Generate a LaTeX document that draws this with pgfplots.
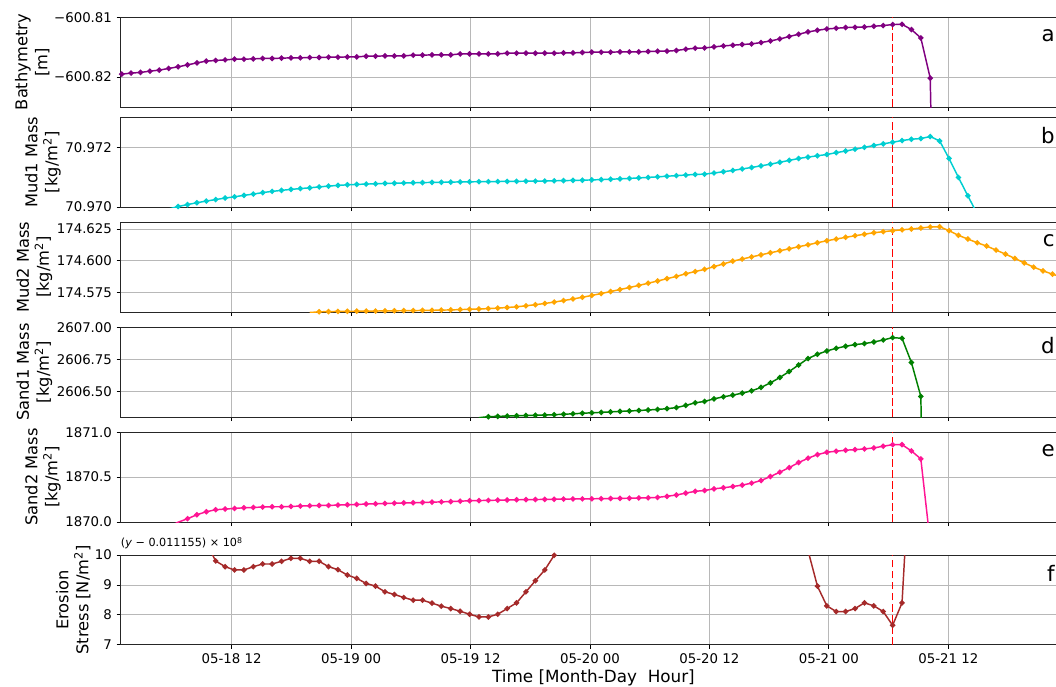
\documentclass[border=0pt]{standalone}
\usepackage{fontspec}
\setmainfont{DejaVu Sans}
\usepackage{pgfplots}
\pgfplotsset{compat=1.18}
\definecolor{cA}{HTML}{800080}
\definecolor{cB}{HTML}{00CED1}
\definecolor{cC}{HTML}{FFA500}
\definecolor{cD}{HTML}{008000}
\definecolor{cE}{HTML}{FF1493}
\definecolor{cF}{HTML}{A52A2A}
% x = sample index (about 57 min per sample); red line at sample 82
% y values are stored as offsets (see tick labels) to keep full precision
\pgfplotsset{
  panel/.style={
    at={(90.5pt,#1)}, anchor=north west,
    scale only axis, width=709.2pt, height=67.3pt,
    xmin=-0.11, xmax=100.47,
    xtick={11.70,24.40,37.11,49.81,62.51,75.22,87.92},
    xticklabels={},
    grid=major,
    major grid style={line width=0.6pt, draw=black!28},
    axis line style={line width=0.6pt, draw=black!85},
    tick align=outside, xtick pos=left, ytick pos=left,
    major tick length=3pt,
    tick style={line width=0.6pt, black},
    tick label style={font=\fontsize{10}{12}\selectfont},
    ylabel style={font=\fontsize{12.2}{15}\selectfont, align=center},
    ylabel shift=-3.5pt,
    /pgf/number format/assume math mode=true,
  },
  ser/.style={color=#1, line width=1.1pt, mark=*, mark size=1.45pt},
  redline/.style={red, line width=1.1pt, dash pattern=on 5.8pt off 2.5pt, mark=none},
}
\tikzset{letter/.style={anchor=east, inner sep=0pt, font=\fontsize{16}{16}\selectfont}}
\begin{document}
\begin{tikzpicture}
\useasboundingbox (0,0) rectangle (792pt,-514.5pt);
% ---------------- a: Bathymetry (y = (value + 600.82) * 1000)
\begin{axis}[panel=-12.97pt, ymin=-5, ymax=10, ytick={0,10},
  yticklabels={−600.82,−600.81}, ylabel={Bathymetry\\{[m]}}]
\addplot[ser=cA] table {
x y
0 0.5
1 0.67
2 0.78
3 1.0
4 1.17
5 1.45
6 1.72
7 2.05
8 2.38
9 2.67
10 2.78
11 2.88
12 3.0
13 3.0
14 3.05
15 3.12
16 3.12
17 3.17
18 3.22
19 3.22
20 3.28
21 3.28
22 3.33
23 3.33
24 3.38
25 3.38
26 3.5
27 3.5
28 3.55
29 3.55
30 3.55
31 3.67
32 3.67
33 3.72
34 3.72
35 3.72
36 3.88
37 3.88
38 3.88
39 3.88
40 3.88
41 4.0
42 4.0
43 4.0
44 4.0
45 4.0
46 4.0
47 4.05
48 4.05
49 4.12
50 4.17
51 4.17
52 4.17
53 4.22
54 4.22
55 4.22
56 4.28
57 4.33
58 4.33
59 4.45
60 4.67
61 4.83
62 4.88
63 5.05
64 5.22
65 5.33
66 5.45
67 5.55
68 5.78
69 6.05
70 6.38
71 6.78
72 7.17
73 7.55
74 7.83
75 8.05
76 8.17
77 8.28
78 8.33
79 8.38
80 8.5
81 8.62
82 8.78
83 8.83
84 7.95
85 6.55
86 -0.17
87 -80
};
\addplot[redline] coordinates {(82,-5) (82,10)};
\node[letter] at (rel axis cs:0.988,0.8) {a};
\end{axis}
% ---------------- b: Mud1 (y = (value - 70.970) * 1000)
\begin{axis}[panel=-87.97pt, ymin=0, ymax=3, ytick={0,2},
  yticklabels={70.970,70.972}, ylabel={Mud1 Mass\\{[kg/m\textsuperscript{2}]}}]
\addplot[ser=cB] table {
x y
5 -0.067
6 0.017
7 0.083
8 0.143
9 0.2
10 0.25
11 0.3
12 0.343
13 0.39
14 0.433
15 0.483
16 0.523
17 0.557
18 0.59
19 0.617
20 0.643
21 0.673
22 0.7
23 0.723
24 0.743
25 0.757
26 0.767
27 0.777
28 0.79
29 0.797
30 0.803
31 0.81
32 0.817
33 0.823
34 0.827
35 0.833
36 0.84
37 0.843
38 0.847
39 0.85
40 0.853
41 0.857
42 0.86
43 0.863
44 0.867
45 0.87
46 0.877
47 0.883
48 0.89
49 0.897
50 0.907
51 0.917
52 0.93
53 0.943
54 0.957
55 0.973
56 0.99
57 1.01
58 1.03
59 1.05
60 1.07
61 1.09
62 1.1
63 1.137
64 1.18
65 1.223
66 1.273
67 1.323
68 1.377
69 1.433
70 1.497
71 1.56
72 1.623
73 1.67
74 1.713
75 1.757
76 1.817
77 1.873
78 1.933
79 1.997
80 2.057
81 2.113
82 2.167
83 2.223
84 2.267
85 2.29
86 2.357
87 2.21
88 1.623
89 0.99
90 0.377
91 -0.233
};
\addplot[redline] coordinates {(82,0) (82,3)};
\node[letter] at (rel axis cs:0.988,0.8) {b};
\end{axis}
% ---------------- c: Mud2 (y = (value - 174.600) * 1000)
\begin{axis}[panel=-166.7pt, ymin=-40.26, ymax=30.32, ytick={-25,0,25},
  yticklabels={174.575,174.600,174.625}, ylabel={Mud2 Mass\\{[kg/m\textsuperscript{2}]}}]
\addplot[ser=cC] table {
x y
20 -40.66
21 -40.11
22 -39.95
23 -39.79
24 -39.71
25 -39.63
26 -39.55
27 -39.48
28 -39.40
29 -39.32
30 -39.24
31 -39.16
32 -39.0
33 -38.92
34 -38.76
35 -38.61
36 -38.37
37 -38.13
38 -37.9
39 -37.58
40 -37.19
41 -36.71
42 -36.16
43 -35.37
44 -34.5
45 -33.55
46 -32.45
47 -31.26
48 -30.0
49 -28.66
50 -27.24
51 -25.74
52 -24.16
53 -22.58
54 -21.0
55 -19.34
56 -17.61
57 -15.87
58 -14.05
59 -12.24
60 -10.18
61 -8.45
62 -6.71
63 -4.58
64 -2.45
65 -0.24
66 1.42
67 3.08
68 4.74
69 6.32
70 7.9
71 9.47
72 11.05
73 12.63
74 14.21
75 15.79
76 17.13
77 18.47
78 19.74
79 20.92
80 22.11
81 22.9
82 23.69
83 24.4
84 25.03
85 25.82
86 26.61
87 26.84
88 23.69
89 20.05
90 17.13
91 14.21
92 11.61
93 8.45
94 5.29
95 1.89
96 -1.58
97 -4.97
98 -7.9
99 -10.5
100 -12.87
};
\addplot[redline] coordinates {(82,-40.26) (82,30.32)};
\node[letter] at (rel axis cs:0.988,0.8) {c};
\end{axis}
% ---------------- d: Sand1 (y = (value - 2606.50) * 100)
\begin{axis}[panel=-245.5pt, ymin=-19.6, ymax=50, ytick={0,25,50},
  yticklabels={2606.50,2606.75,2607.00}, ylabel={Sand1 Mass\\{[kg/m\textsuperscript{2}]}}]
\addplot[ser=cD] table {
x y
38 -20.06
39 -19.29
40 -19.06
41 -18.83
42 -18.59
43 -18.36
44 -18.21
45 -18.05
46 -17.74
47 -17.43
48 -17.05
49 -16.66
50 -16.27
51 -15.97
52 -15.58
53 -15.19
54 -14.88
55 -14.5
56 -14.11
57 -13.65
58 -13.1
59 -12.25
60 -10.55
61 -8.54
62 -7.46
63 -5.45
64 -3.9
65 -2.59
66 -1.04
67 0.74
68 3.37
69 6.92
70 11.1
71 15.74
72 20.84
73 25.79
74 29.12
75 31.67
76 33.76
77 35.3
78 36.62
79 37.39
80 38.63
81 40.18
82 42.03
83 41.49
84 22.7
85 -3.59
86 -400
};
\addplot[redline] coordinates {(82,-19.6) (82,50)};
\node[letter] at (rel axis cs:0.988,0.8) {d};
\end{axis}
% ---------------- e: Sand2 (y = (value - 1870.0) * 100)
\begin{axis}[panel=-324.2pt, ymin=0, ymax=100, ytick={0,50,100},
  yticklabels={1870.0,1870.5,1871.0}, ylabel={Sand2 Mass\\{[kg/m\textsuperscript{2}]}}]
\addplot[ser=cE] table {
x y
5 -5.22
6 -0.22
7 3.67
8 8.11
9 11.44
10 13.67
11 14.44
12 15.11
13 15.89
14 16.22
15 16.67
16 17.0
17 17.0
18 17.33
19 17.78
20 18.11
21 18.44
22 18.44
23 18.89
24 19.22
25 19.55
26 20.0
27 20.33
28 20.66
29 21.0
30 21.22
31 21.44
32 21.78
33 22.11
34 22.44
35 22.78
36 23.22
37 23.66
38 23.89
39 24.11
40 24.33
41 24.55
42 24.78
43 24.89
44 25.0
45 25.22
46 25.33
47 25.55
48 25.66
49 25.78
50 25.89
51 26.0
52 26.22
53 26.33
54 26.55
55 26.78
56 27.0
57 27.44
58 28.66
59 30.11
60 32.22
61 34.22
62 35.11
63 37.0
64 38.11
65 39.55
66 41.11
67 43.33
68 46.22
69 50.66
70 55.55
71 60.66
72 66.22
73 71.1
74 75.1
75 77.77
76 78.88
77 80.0
78 80.66
79 81.44
80 82.55
81 84.44
82 86.21
83 86.21
84 79.21
85 70.33
86 -23.0
87 -108.5
};
\addplot[redline] coordinates {(82,0) (82,100)};
\node[letter] at (rel axis cs:0.988,0.8) {e};
\end{axis}
% ---------------- f: Erosion stress (y = (value - 0.011155) * 1e8)
\begin{axis}[panel=-416.25pt, ymin=7, ymax=10, ytick={7,8,9,10},
  yticklabels={7,8,9,10}, ylabel={Erosion\\Stress [N/m\textsuperscript{2}]},
  xticklabels={05-18 12,05-19 00,05-19 12,05-20 00,05-20 12,05-21 00,05-21 12},
  xlabel={Time [Month-Day~\ Hour]},
  xlabel style={font=\fontsize{12.6}{15}\selectfont, yshift=2.5pt},
  after end axis/.code={
    \node[anchor=west, inner sep=0pt, font=\fontsize{8.4}{10}\selectfont]
      at (rel axis cs:0,1) [yshift=8.8pt] {(\textit{y} − 0.011155) × 10\textsuperscript{8}};
  }]
\addplot[ser=cF] table {
x y
8 12.0
9 10.4
10 9.8
11 9.61
12 9.5
13 9.5
14 9.61
15 9.7
16 9.7
17 9.79
18 9.89
19 9.89
20 9.79
21 9.79
22 9.61
23 9.51
24 9.33
25 9.22
26 9.05
27 8.96
28 8.77
29 8.68
30 8.58
31 8.49
32 8.49
33 8.39
34 8.29
35 8.21
36 8.12
37 8.02
38 7.93
39 7.93
40 8.02
41 8.21
42 8.4
43 8.77
44 9.14
45 9.5
46 9.99
47 10.9
48 11.8
49 12.5
50 13.0
51 13.3
52 13.5
53 13.6
54 13.6
55 13.5
56 13.4
57 13.3
58 13.2
59 13.1
60 13.0
61 12.9
62 12.8
63 12.7
64 12.6
65 12.5
66 12.4
67 12.3
68 12.2
69 12.0
70 11.8
71 11.4
72 10.9
73 10.15
74 8.96
75 8.3
76 8.11
77 8.11
78 8.21
79 8.4
80 8.3
81 8.11
82 7.65
83 8.4
84 14.0
};
\addplot[redline] coordinates {(82,7) (82,10)};
\node[letter] at (rel axis cs:0.988,0.8) {f};
\end{axis}
\end{tikzpicture}
\end{document}
